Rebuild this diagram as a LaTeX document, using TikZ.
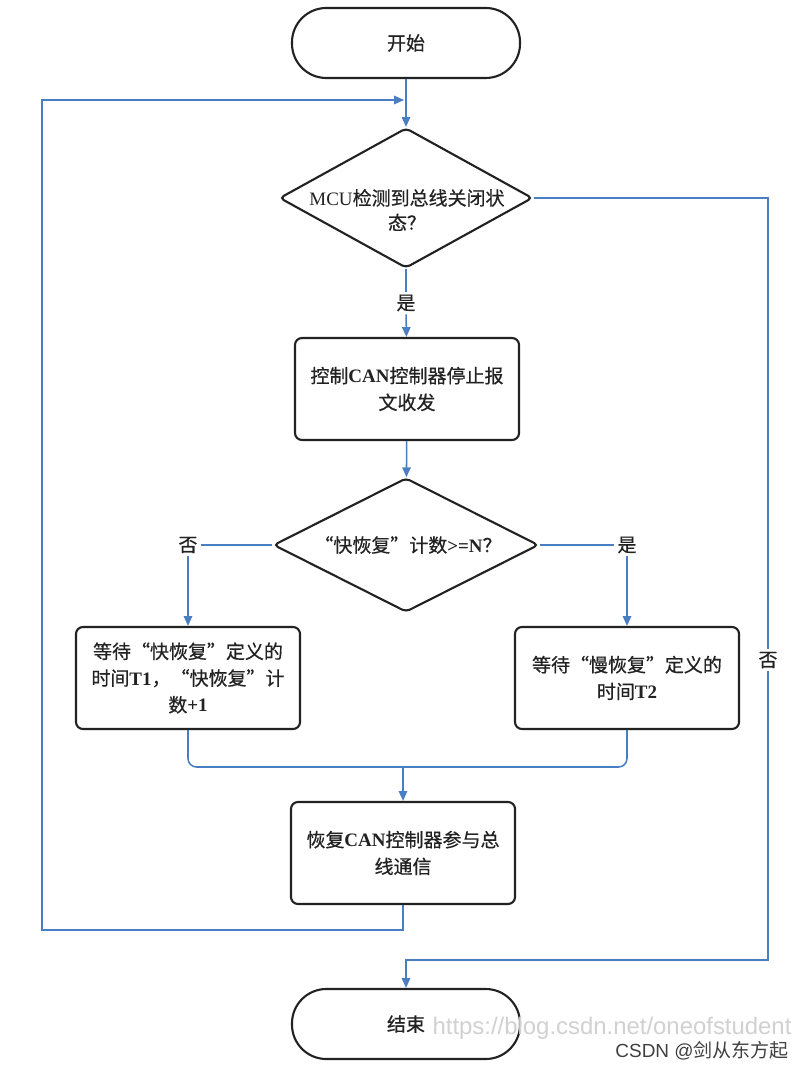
\documentclass[tikz,border=0pt]{standalone}
\usepackage{fontspec}
\setmainfont{Noto Sans CJK SC}
\newfontfamily\cjkheavy{Noto Sans CJK SC}[FakeBold=0.6]
\newfontfamily\latin{Liberation Serif}
\newfontfamily\wmfont{Liberation Sans}
\usetikzlibrary{shapes.geometric,arrows.meta}
\definecolor{flowblue}{HTML}{4A7EC2}
\definecolor{inkgray}{HTML}{222222}
\tikzset{
  terminal/.style={draw=inkgray,line width=1.5pt,rounded corners=0.86cm,minimum width=5.7cm,minimum height=1.75cm,inner sep=0pt},
  process/.style={draw=inkgray,line width=1.5pt,rounded corners=5pt,minimum width=5.6cm,minimum height=2.55cm,align=center,inner sep=0pt},
  decision/.style={draw=inkgray,line width=1.5pt,diamond,rounded corners=3pt,inner sep=0pt},
  flow/.style={draw=flowblue,line width=1.1pt},
  arr/.style={-{Triangle[length=7pt,width=6pt]}},
  lbl/.style={inner sep=2pt},
}
\begin{document}
\begin{tikzpicture}[x=0.025cm,y=-0.025cm,font=\cjkheavy\fontsize{13.5}{19}\selectfont,text=inkgray]
\useasboundingbox[fill=white] (0,0) rectangle (800,1069);

% Main column
\node[terminal] (start) at (406,43) {开始};
\node[decision,minimum width=6.325cm,minimum height=3.5cm] (check) at (406,198) {};
\node[align=center,text width=5.2cm,font=\cjkheavy\fontsize{13.5}{17.5}\selectfont] (checktxt) at (407,210) {{\latin MCU}检测到总线关闭状\\态？};
\node[lbl] (yes1) at (406,303) {是};
\node[process] (stopcan) at (407,389) {控制{\latin\bfseries CAN}控制器停止报\\文收发};
\node[decision,minimum width=6.625cm,minimum height=3.35cm] (count) at (406,545) {};
\node (counttxt) at (408,545) {“快恢复”计数{\latin\bfseries >=N}？};

% Branches
\node[lbl] (no2) at (188,545) {否};
\node[lbl] (yes2) at (627,545) {是};
\node[process] (fastwait) at (188,678) {等待“快恢复”定义的\\时间{\latin\bfseries T1}，“快恢复”计\\数{\latin\bfseries +1}};
\node[process] (slowwait) at (627,678) {等待“慢恢复”定义的\\时间{\latin\bfseries T2}};
\node[process] (resume) at (403,853) {恢复{\latin\bfseries CAN}控制器参与总\\线通信};
\node[terminal] (stop) at (406,1024) {结束};
\node[lbl] (no1) at (768,660) {否};

% Bends
\coordinate (merge) at (403,767);
\coordinate (loopbl) at (42,930);
\coordinate (looptl) at (42,100);
\coordinate (loopin) at (404,100);
\coordinate (nobr) at (768,960);

% Connectors
\draw[flow,arr] (start) -- (check);
\draw[flow] (check) -- (yes1);
\draw[flow,arr] (yes1) -- (stopcan);
\draw[flow,arr] (stopcan) -- (count);
\draw[flow] (count.west) -- (no2);
\draw[flow,arr] (no2) -- (fastwait);
\draw[flow] (count.east) -- (yes2);
\draw[flow,arr] (yes2) -- (slowwait);
\draw[flow,rounded corners=6pt] (fastwait) |- (merge) -| (slowwait);
\draw[flow,arr] (merge) -- (resume);
\draw[flow,arr] (resume) |- (loopbl) -- (looptl) -- (loopin);
\draw[flow] (check.east) -| (no1);
\draw[flow,arr] (no1) -- (nobr) -| (stop);

% Watermark
\node[text=black!18,font=\wmfont\fontsize{17}{17}\selectfont] (url) at (612,1028) {https://blog.csdn.net/oneofstudent};
\node[text=black!75,font=\fontsize{13.5}{14}\selectfont] (mark) at (702,1051) {{\wmfont CSDN @}剑从东方起};
\end{tikzpicture}
\end{document}
